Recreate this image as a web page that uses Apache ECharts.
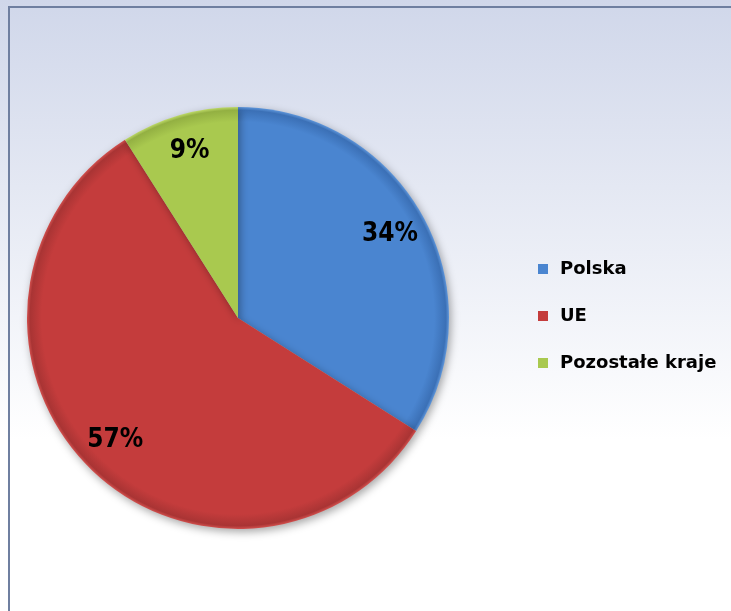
<!DOCTYPE html>
<html><head><meta charset="utf-8">
<script src="https://cdn.jsdelivr.net/npm/echarts@6/dist/echarts.min.js"></script>
<style>html,body{margin:0;padding:0;}#c{width:731px;height:611px;}</style>
</head><body><div id="c"></div>
<script>
const categories = ['Polska', 'UE', 'Pozostałe kraje'];
const values = [34, 57, 9];
const colors = [
  ['#5d95da', '#4a85d0', '#3b70b6'],
  ['#d24f4d', '#c43c3c', '#a93434'],
  ['#bcd866', '#a9c94f', '#93b042']
];
const CX = 238, CY = 318, R = 211;
function grad(c){
  return {type:'radial', x:CX, y:CY, r:R, global:true, colorStops:[
    {offset:0, color:c[1]},{offset:0.93, color:c[1]},{offset:0.985, color:c[2]},{offset:1, color:c[0]}]};
}
const chart = echarts.init(document.getElementById('c'));
const data = categories.map((n,i)=>({name:n, value:values[i], itemStyle:{color:grad(colors[i])}}));
const labelData = categories.map((n,i)=>({name:n, value:values[i]}));
chart.setOption({
  animation:false,
  backgroundColor:{type:'linear', x:0, y:0, x2:0, y2:1, colorStops:[
    {offset:0, color:'#d0d7ea'},{offset:0.72, color:'#ffffff'},{offset:1, color:'#ffffff'}]},
  graphic:[{type:'rect', shape:{x:9, y:7, width:760, height:640}, style:{fill:'none', stroke:'#6f7fa0', lineWidth:2}, silent:true}],
  legend:{
    orient:'vertical', left:533, top:254, itemWidth:10, itemHeight:10, itemGap:27, icon:'rect',
    data:categories.map((n,i)=>({name:n, itemStyle:{color:colors[i][1]}})),
    textStyle:{fontFamily:'DejaVu Sans', fontWeight:'bold', fontSize:18, color:'#000', lineHeight:20, padding:[0,0,0,7]}
  },
  series:[
    {type:'pie', center:[CX,CY], radius:[0,R], startAngle:90, clockwise:true,
     data:data, label:{show:false}, labelLine:{show:false},
     itemStyle:{shadowBlur:8, shadowColor:'rgba(0,0,0,0.35)', shadowOffsetX:2, shadowOffsetY:3},
     emphasis:{disabled:true}},
    {type:'pie', center:[CX,CY], radius:[132,R-2], startAngle:90, clockwise:true, silent:true,
     data:labelData, itemStyle:{color:'transparent'}, legendHoverLink:false,
     label:{show:true, position:'inside', formatter:'{d}%', fontFamily:'DejaVu Sans Condensed', fontWeight:'bold', fontSize:26, color:'#000'},
     labelLine:{show:false}, emphasis:{disabled:true}}
  ]
});
</script></body></html>
